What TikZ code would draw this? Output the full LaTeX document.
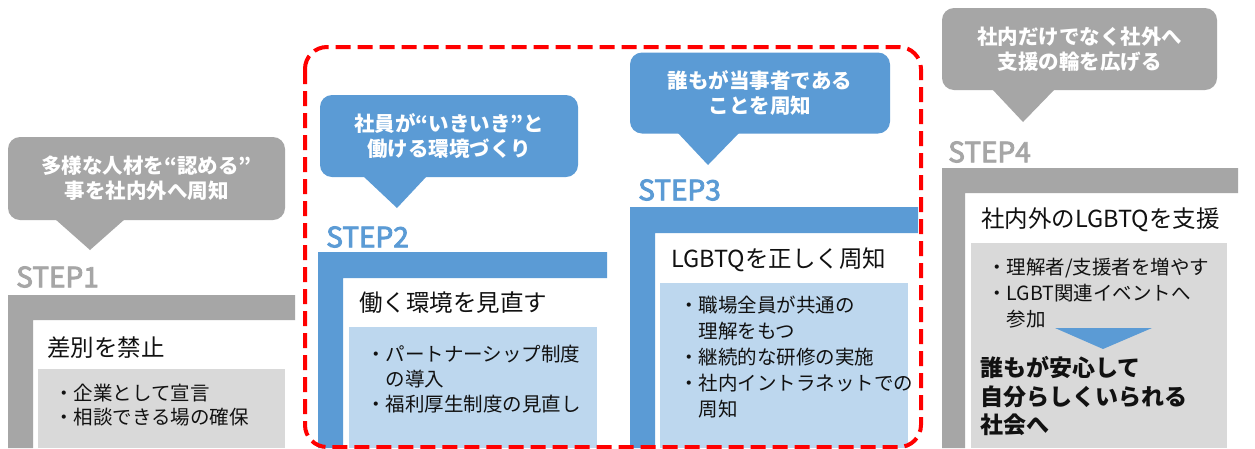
\documentclass[tikz,border=0pt]{standalone}
\usepackage{fontspec}
\setmainfont{Noto Sans CJK JP}
\newfontfamily\stepfont{Noto Sans CJK JP}[FakeBold=3]
\definecolor{cgray}{HTML}{A6A6A6}
\definecolor{clgray}{HTML}{D9D9D9}
\definecolor{cblue}{HTML}{5B9BD5}
\definecolor{clblue}{HTML}{BDD7EE}
\definecolor{cred}{HTML}{FF0000}
\definecolor{ctext}{HTML}{111111}
\tikzset{
  callout/.style={fill=#1, rounded corners=12pt, text=white, align=center, inner sep=0pt,
    font=\fontsize{20.5}{25}\selectfont\bfseries},
  steplabel/.style={anchor=west, inner sep=0pt, text=#1, font=\stepfont\fontsize{28}{28}\selectfont},
  titletext/.style={anchor=west, inner sep=0pt, text=ctext, font=\fontsize{23.5}{26}\selectfont},
  bullettext/.style={anchor=west, inner sep=0pt, text=ctext, align=left, font=\fontsize{19.5}{#1}\selectfont},
  boldtext/.style={anchor=west, inner sep=0pt, text=ctext, align=left, font=\fontsize{23}{28.5}\selectfont\bfseries},
}
\begin{document}
\begin{tikzpicture}[x=1pt,y=-1pt]
\useasboundingbox (0,0) rectangle (1255,448);
\fill[white] (0,0) rectangle (1255,448);

% ---------------- STEP1
\node[callout=cgray, minimum width=277pt, minimum height=83pt] (c1) at (146.5,178.5) {多様な人材を“認める”\\事を社内外へ周知};
\fill[cgray] (55,219) -- (125,219) -- (90,250) -- cycle;
\node[steplabel=cgray] (s1) at (16,277) {STEP1};
\fill[cgray] (8,295) -- (295,295) -- (295,320) -- (33,320) -- (33,448) -- (8,448) -- cycle;
\node[titletext] (t1) at (47,348) {差別を禁止};
\fill[clgray] (38,369) rectangle (285,448);
\node[bullettext=24] (b1) at (54,405) {・企業として宣言\\・相談できる場の確保};

% ---------------- STEP2
\node[callout=cblue, minimum width=258pt, minimum height=82pt] (c2) at (449,136) {社員が“いきいき”と\\働ける環境づくり};
\fill[cblue] (363,176) -- (427,176) -- (397,208) -- cycle;
\node[steplabel=cblue] (s2) at (326,237) {STEP2};
\fill[cblue] (318,252) -- (607,252) -- (607,278) -- (343,278) -- (343,448) -- (318,448) -- cycle;
\node[titletext] (t2) at (359,303) {働く環境を見直す};
\fill[clblue] (349,327) rectangle (597,448);
\node[bullettext=25] (b2) at (366,379) {・パートナーシップ制度\\\hphantom{・}の導入\\・福利厚生制度の見直し};

% ---------------- STEP3
\node[callout=cblue, minimum width=260pt, minimum height=81pt] (c3) at (760,93) {誰もが当事者である\\ことを周知};
\fill[cblue] (677,132) -- (740,132) -- (708,165) -- cycle;
\node[steplabel=cblue] (s3) at (638,190) {STEP3};
\fill[cblue] (630,207) -- (918,207) -- (918,233) -- (655,233) -- (655,448) -- (630,448) -- cycle;
\node[titletext] (t3) at (671,260) {LGBTQを正しく周知};
\fill[clblue] (660,283) rectangle (908,448);
\node[bullettext=26] (b3) at (679,357.5) {・職場全員が共通の\\\hphantom{・}理解をもつ\\・継続的な研修の実施\\・社内イントラネットでの\\\hphantom{・}周知};

% ---------------- STEP4
\node[callout=cgray, minimum width=275pt, minimum height=82pt] (c4) at (1079.5,49) {社内だけでなく社外へ\\支援の輪を広げる};
\fill[cgray] (992,89) -- (1055,89) -- (1023,122) -- cycle;
\node[steplabel=cgray] (s4) at (948,152) {STEP4};
\fill[cgray] (942,168) -- (1238,168) -- (1238,193) -- (965,193) -- (965,448) -- (942,448) -- cycle;
\node[titletext] (t4) at (981,220) {社内外のLGBTQを支援};
\fill[clgray] (971,243) rectangle (1227,448);
\node[bullettext=26] (b4) at (987,293) {・理解者/支援者を増やす\\・LGBT関連イベントへ\\\hphantom{・}参加};
\fill[cblue] (1055,328) -- (1152,328) -- (1103,349) -- cycle;
\node[boldtext] (g4) at (980,396.5) {誰もが安心して\\自分らしくいられる\\社会へ};

% ---------------- red dashed frame
\draw[cred, line width=4pt, dash pattern=on 15pt off 7pt, rounded corners=22pt] (305,47) rectangle (921,447);
\end{tikzpicture}
\end{document}
